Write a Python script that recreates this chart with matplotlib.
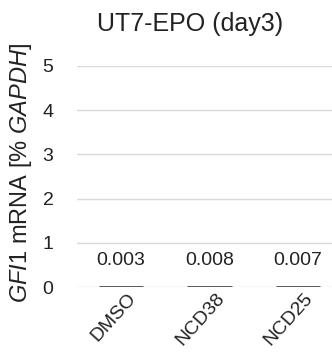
import matplotlib
matplotlib.use("Agg")
import matplotlib.pyplot as plt
from matplotlib.transforms import ScaledTranslation

plt.rcParams['font.family'] = ['Liberation Sans', 'DejaVu Sans']
plt.rcParams['mathtext.fontset'] = 'custom'
plt.rcParams['mathtext.rm'] = 'Liberation Sans'
plt.rcParams['mathtext.it'] = 'Liberation Sans:italic'

categories = ["DMSO", "NCD38", "NCD25"]
values = [0.003, 0.008, 0.007]
value_labels = ["0.003", "0.008", "0.007"]
yticks = [0, 1, 2, 3, 4, 5]

fig = plt.figure(figsize=(3.32, 3.54), dpi=100)
ax = fig.add_axes([77/332, 1-287/354, 265/332, 221/354])

x = range(len(categories))
ax.bar(x, values, width=0.5, color="#2b2b2b", edgecolor="#2b2b2b", linewidth=1.8, zorder=3)
for xi, v, lab in zip(x, values, value_labels):
    ax.text(xi, v + 0.4, lab, ha="center", va="bottom", fontsize=14, color="#222222")

ax.set_xlim(-0.5, 2.5)
ax.set_ylim(0, 5)
ax.set_yticks(yticks)
ax.set_xticks(list(x))
ax.set_xticklabels(categories, rotation=48, ha="right", rotation_mode="anchor", fontsize=14)
ax.tick_params(axis="both", length=0, colors="#222222")
ax.tick_params(axis="y", pad=17, labelsize=14)
ax.tick_params(axis="x", pad=2)
shift = ScaledTranslation(6/100, 0, fig.dpi_scale_trans)
for lbl in ax.get_xticklabels():
    lbl.set_transform(lbl.get_transform() + shift)
ax.grid(axis="y", color="#d9d9d9", linewidth=1.0, zorder=0)
for s in ax.spines.values():
    s.set_visible(False)

fig.text(21/332, 1-172.5/354, r"$\it{GFI1}$ mRNA [% $\it{GAPDH}$]", rotation=90,
         ha="center", va="center", fontsize=17, color="#222222")
fig.text(190/332, 1-31/354, "UT7-EPO (day3)", ha="center", va="baseline",
         fontsize=18, color="#222222")

fig.savefig("out.png", dpi=100)
